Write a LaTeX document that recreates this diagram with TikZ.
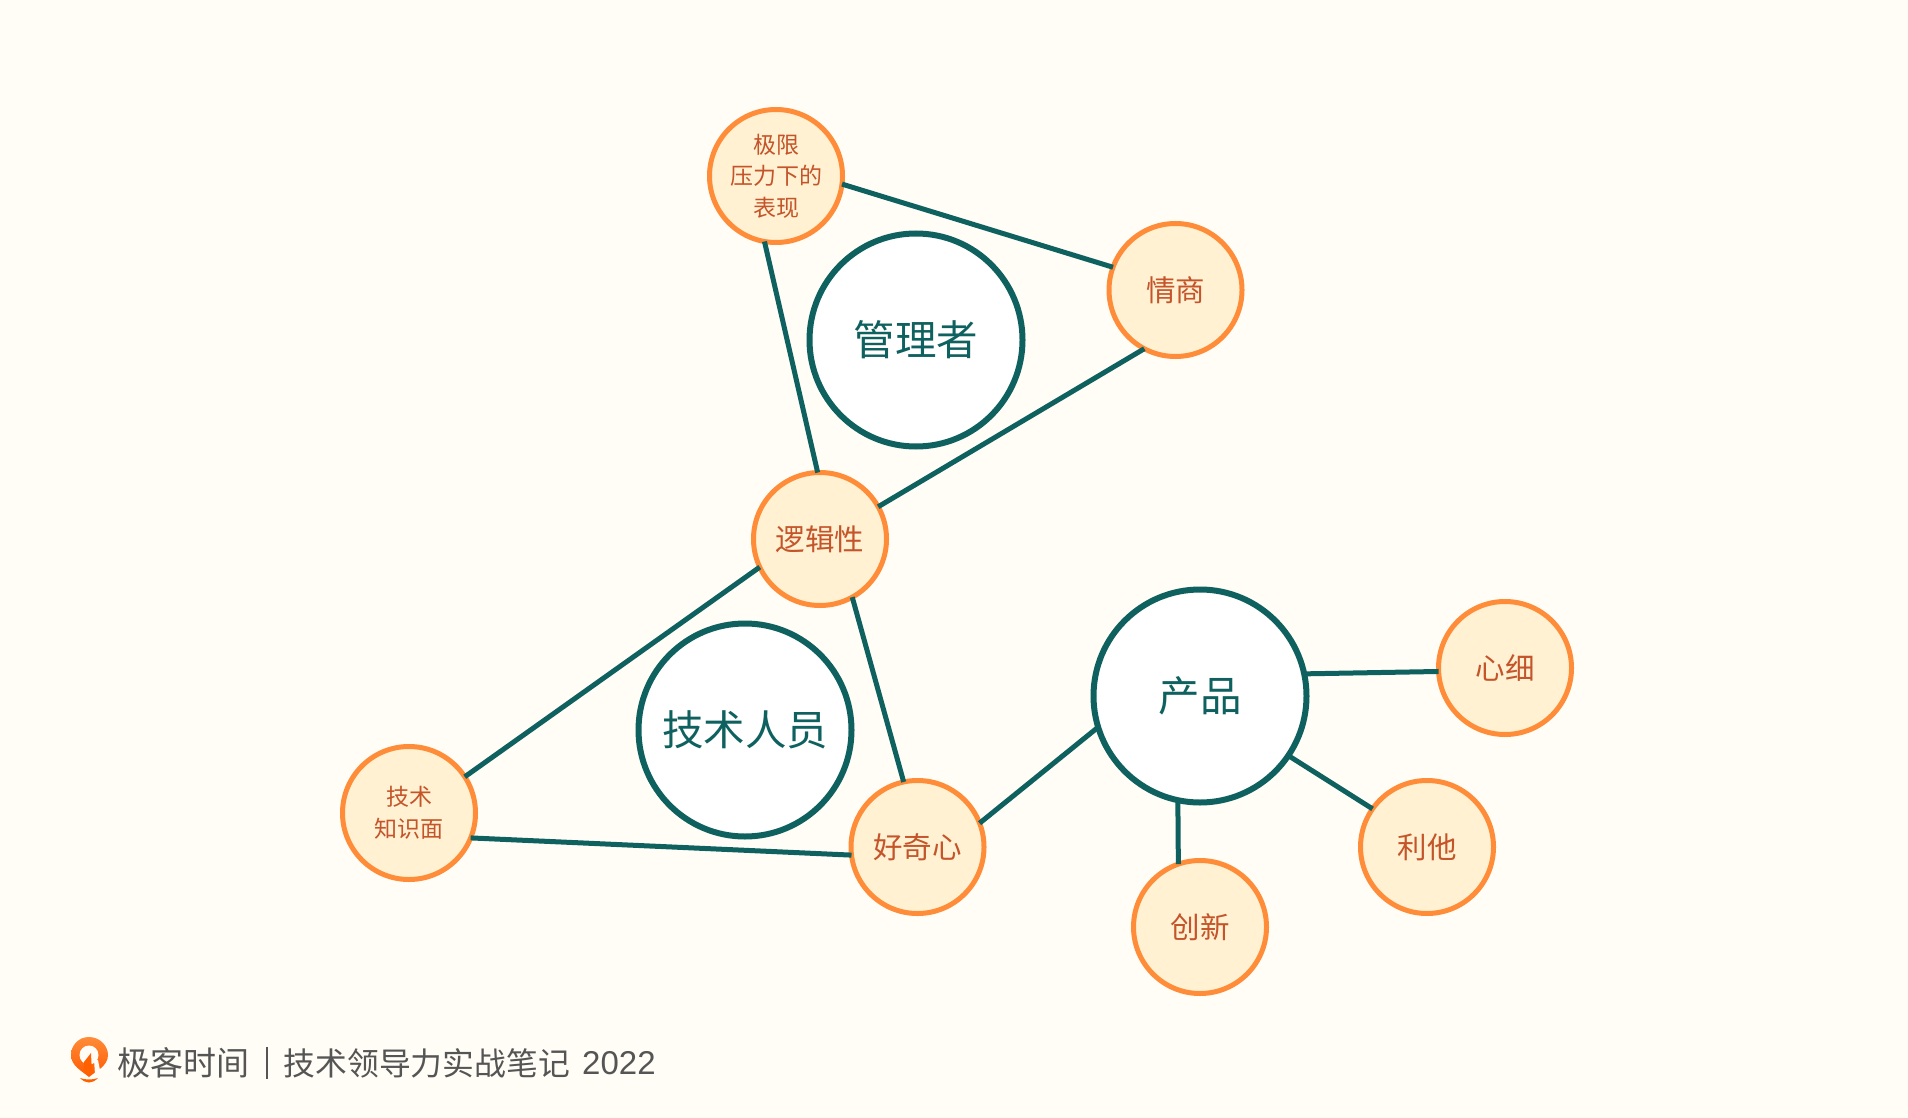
\documentclass[tikz,border=0pt]{standalone}
\usepackage{fontspec}
\setmainfont{Noto Sans CJK SC}
\newfontfamily\latinfont{Liberation Sans}
\definecolor{paper}{HTML}{FFFDF6}
\definecolor{ringorange}{HTML}{FF8C38}
\definecolor{cream}{HTML}{FFF1D2}
\definecolor{rust}{HTML}{C4542A}
\definecolor{teal}{HTML}{0F615F}
\definecolor{footgrey}{HTML}{555555}
\tikzset{
  trait/.style={circle,draw=ringorange,fill=cream,line width=5pt,minimum size=133pt,
    inner sep=0pt,outer sep=0pt,text=rust,align=center,font=\fontsize{29.5}{34}\selectfont},
  smalltrait/.style={trait,font=\fontsize{23}{31.5}\selectfont},
  role/.style={circle,draw=teal,fill=white,line width=6pt,minimum size=213pt,
    inner sep=0pt,outer sep=0pt,text=teal,font=\fontsize{41.5}{48}\selectfont},
  link/.style={draw=teal,line width=5pt},
  foot/.style={text=footgrey,inner sep=0pt,anchor=west},
}
\begin{document}
\begin{tikzpicture}[x=1pt,y=-1pt]
\fill[paper] (0,0) rectangle (1908,1118);
\useasboundingbox (0,0) rectangle (1908,1118);

\foreach \x/\y/\name/\txt in {916/340/manager/管理者,745/730/engineer/技术人员,1200/696/product/产品} {
  \node[role] (\name) at (\x,\y) {\txt};
}

\foreach \x/\y/\name/\txt in {1175.5/290/eq/情商,820/539/logic/逻辑性,917.5/847/curious/好奇心,
  1200/927/innovate/创新,1427/847/altruism/利他,1505/668/careful/心细} {
  \node[trait] (\name) at (\x,\y) {\txt};
}

\node[smalltrait] (pressure) at (776,176) {极限\\压力下的\\表现};
\node[smalltrait] (breadth) at (409,813) {技术\\知识面};

\foreach \a/\b in {pressure.-7/eq.160,pressure.260/logic.92,eq.242/logic.29,
  logic.205/breadth.33,logic.299/curious.102,breadth.-22/curious.187,
  curious.21/product.197,product.12/careful.183,product.-34/altruism.145,
  product.258/innovate.109} {
  \draw[link] (\a) -- (\b);
}

% footer
\shade[top color=ringorange,bottom color=orange!70!red] (89,1037) .. controls (78,1037) and (71,1046) .. (71,1055)
  .. controls (71,1066) and (82,1071) .. (89,1077)
  .. controls (96,1071) and (108,1066) .. (108,1055)
  .. controls (108,1046) and (100,1037) .. (89,1037) -- cycle;
\fill[paper] (89,1055) circle (9.5);
\fill[orange!75!red] (84,1073) -- (84,1062) -- (91,1053) -- (92,1074) -- cycle;
\fill[paper] (94,1060) -- (98,1060) -- (100,1070) -- (95,1074) -- cycle;
\fill[orange!75!red] (80,1078) .. controls (86,1084) and (92,1084) .. (98,1078)
  .. controls (92,1080) and (86,1080) .. (80,1078) -- cycle;
\node[foot] (brand) at (117,1063) {\fontsize{33}{36}\selectfont 极客时间};
\node[foot] (title) at (283.5,1063) {\fontsize{31.8}{36}\selectfont 技术领导力实战笔记};
\node[foot] (year) at (582,1063) {\fontsize{33}{36}\selectfont\latinfont 2022};
\fill[footgrey] (265.5,1047) rectangle (267.5,1079);
\end{tikzpicture}
\end{document}
